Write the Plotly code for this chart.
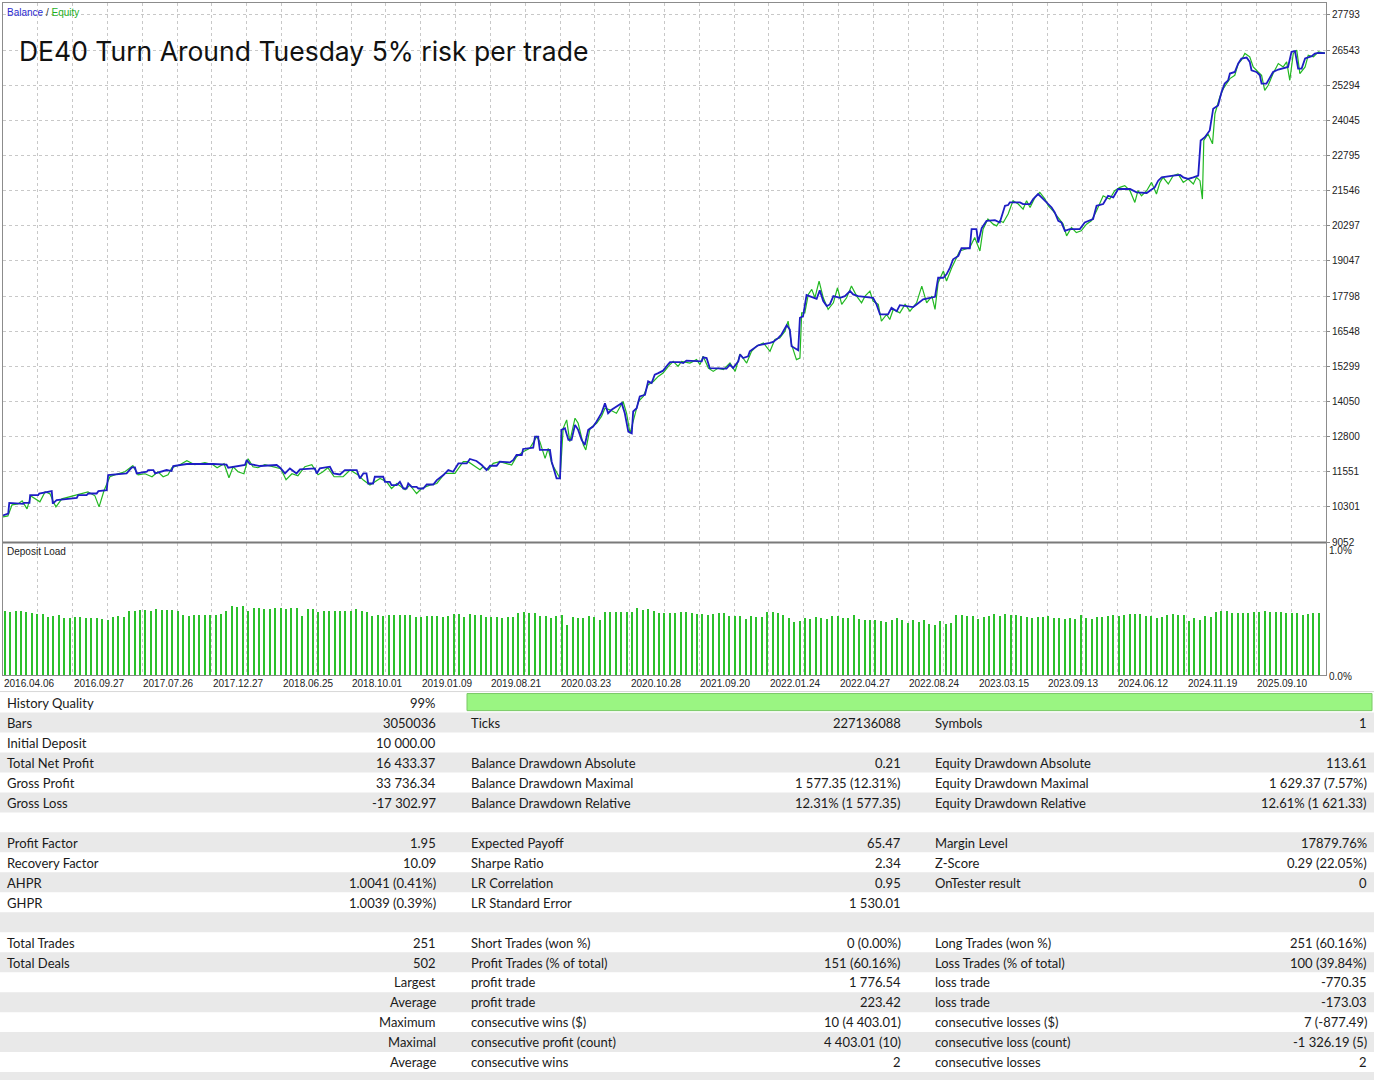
import plotly.graph_objects as go

# balance curve (deal index, account balance)
balance_deal = [0, 1.5, 1.8, 5.8, 6.0, 7.6, 7.8, 10.1, 10.4, 12.6, 14.0, 14.3, 15.4, 21.2, 21.6, 24.0,
                24.5, 26.9, 27.4, 29.8, 30.2, 35.5, 36.0, 37.0, 37.9, 38.4, 41.3, 41.7, 43.2, 43.7, 47.0,
                48.4, 48.9, 52.8, 60.4, 64.2, 64.7, 66.1, 69.5, 70.0, 70.9, 73.8, 78.6, 79.6, 81.0, 82.4,
                84.3, 85.3, 89.6, 90.1, 91.0, 93.9, 94.9, 96.8, 98.2, 101.6, 102.5, 103.5, 104.4, 104.9,
                106.3, 106.8, 109.2, 109.7, 111.1, 111.6, 113.1, 114.0, 115.0, 115.9, 116.4, 117.4, 118.8,
                119.3, 120.7, 121.7, 123.6, 124.6, 126.5, 127.9, 129.3, 130.8, 133.2, 134.1, 136.0, 137.5,
                138.9, 139.9, 141.8, 142.7, 145.6, 146.6, 147.5, 149.0, 149.4, 152.3, 152.8, 153.7, 154.2,
                157.1, 157.6, 159.0, 160.0, 160.4, 161.4, 162.4, 163.3, 164.3, 165.2, 166.2, 167.1, 168.1,
                169.5, 170.5, 171.9, 172.9, 173.8, 174.8, 176.2, 177.7, 178.6, 179.6, 180.6, 181.0, 182.0,
                182.9, 184.4, 185.3, 186.3, 187.2, 188.2, 189.6, 191.1, 191.6, 194.4, 195.4, 196.3, 199.2,
                200.7, 201.1, 202.1, 203.0, 207.8, 208.8, 209.7, 211.2, 211.7, 212.6, 214.0, 214.5, 216.0,
                216.9, 220.3, 221.2, 222.7, 223.6, 225.1, 226.0, 226.5, 228.4, 228.9, 229.8, 230.8, 233.7,
                234.6, 235.6, 236.6, 237.5, 238.5, 240.4, 241.8, 243.3, 244.2, 245.6, 249.9, 250.9, 251.9,
                254.2, 255.2, 256.7, 257.6, 261.4, 262.4, 264.3, 267.7, 268.6, 270.1, 271.0, 272.0, 272.9,
                274.4, 275.3, 277.7, 278.2, 279.6, 280.1, 281.1, 282.5, 284.9, 286.3, 287.8, 288.7, 289.2,
                292.1, 293.0, 295.0, 295.9, 297.3, 298.3, 299.3, 300.2, 301.2, 302.1, 303.1, 304.0, 305.0,
                306.4, 309.3, 310.7, 311.7, 313.1, 314.1, 316.0, 317.4, 318.9, 320.3, 323.7, 325.6, 328.5,
                329.4, 330.8, 331.8, 332.8, 336.1, 338.1, 339.0, 340.4, 341.9, 343.3, 344.0, 345.2, 346.6,
                347.6, 349.0, 350.0, 350.9, 351.9, 352.4, 353.8, 354.8, 355.7, 357.2, 358.1, 358.6, 360.0,
                361.0, 361.5, 362.9, 363.9, 364.8, 366.3, 368.7, 369.1, 370.1, 371.1, 372.0, 373.0, 374.0,
                375.9, 376.8, 377.8, 379.7]
balance_value = [10000, 10062, 10444, 10408, 10444, 10444, 10719, 10719, 10776, 10837, 10862, 10419, 10540,
                 10622, 10719, 10719, 10776, 10776, 10862, 10897, 11433, 11490, 11550, 11704, 11704, 11490,
                 11550, 11611, 11611, 11490, 11611, 11575, 11754, 11825, 11825, 11800, 11693, 11729, 11790,
                 11968, 11825, 11754, 11790, 11693, 11490, 11668, 11490, 11632, 11668, 11490, 11668, 11729,
                 11490, 11454, 11611, 11611, 11311, 11490, 11490, 11133, 11133, 11372, 11372, 11193, 11193,
                 11076, 11076, 11193, 10954, 10954, 11133, 11015, 11015, 10954, 10954, 11097, 11097, 11254,
                 11433, 11611, 11550, 11847, 11847, 12004, 11932, 11790, 11611, 11764, 11764, 11907, 11882,
                 11968, 12146, 12146, 12361, 12407, 12799, 12799, 12325, 12325, 11907, 11311, 11311, 13039,
                 13096, 12682, 12682, 13217, 13039, 12682, 12503, 13039, 13156, 13335, 13631, 13988, 13631,
                 13752, 13870, 13988, 13631, 12978, 12917, 13692, 13810, 14227, 14288, 14762, 14702, 15002,
                 15059, 15144, 15380, 15451, 15451, 15416, 15501, 15501, 15476, 15619, 15594, 15237, 15216,
                 15359, 15237, 15476, 15716, 15594, 15655, 15833, 15951, 16047, 16129, 16165, 16308, 16429,
                 16761, 16608, 16012, 15869, 17022, 17082, 17832, 17700, 17999, 17618, 17440, 17500, 17796,
                 17736, 17796, 17975, 17857, 17796, 17736, 17500, 17143, 17143, 17379, 17261, 17475, 17403,
                 17500, 17679, 17771, 18449, 18449, 18571, 18807, 19106, 19224, 19498, 19498, 20177, 20177,
                 19699, 20212, 20473, 20498, 20413, 21008, 21033, 21126, 21126, 21069, 21069, 21247, 21426,
                 21305, 21187, 21069, 20948, 20770, 20473, 20413, 20116, 20177, 20177, 20413, 20473, 20534,
                 21008, 21069, 21365, 21305, 21604, 21604, 21483, 21462, 21544, 21662, 21900, 22019, 22079,
                 22104, 22019, 21961, 22019, 22079, 23328, 23446, 23685, 24459, 24577, 25052, 25352, 25470,
                 25709, 25766, 26066, 26244, 26280, 26123, 25826, 25766, 25648, 25352, 25352, 25588, 25766,
                 25852, 25909, 25945, 26480, 26505, 25887, 25887, 26244, 26326, 26423, 26444, 26433]

# equity curve (deal index, equity)
equity_deal = [0, 1.4, 2.6, 4.3, 5.5, 6.9, 8.0, 9.8, 10.6, 12.1, 13.5, 14.4, 15.2, 16.9, 19.2, 22.1, 24.4,
               26.4, 27.6, 29.0, 30.7, 33.0, 35.0, 37.3, 38.8, 40.8, 42.8, 44.5, 46.0, 47.4, 48.5, 50.8,
               52.8, 55.1, 58.0, 60.3, 61.5, 63.5, 64.9, 66.1, 67.5, 69.2, 70.4, 71.8, 73.2, 75.2, 77.5,
               79.8, 81.3, 83.0, 84.7, 86.7, 88.7, 90.5, 91.9, 93.3, 95.1, 97.7, 99.7, 102.0, 103.5, 105.4,
               108.3, 110.2, 111.6, 113.1, 115.5, 116.9, 118.8, 120.2, 122.6, 124.6, 126.9, 128.4, 129.8,
               132.2, 133.6, 137.0, 137.9, 139.4, 140.8, 142.7, 144.7, 146.1, 147.5, 149.4, 151.3, 153.3,
               154.2, 155.7, 156.6, 157.6, 160.0, 160.9, 161.9, 162.8, 164.3, 165.2, 166.7, 167.4, 168.6,
               170.5, 171.9, 172.9, 174.3, 176.2, 178.1, 179.1, 180.1, 181.5, 182.5, 183.9, 185.3, 186.8,
               188.2, 189.6, 191.1, 192.5, 193.9, 194.9, 197.3, 199.2, 200.2, 201.1, 202.6, 204.0, 205.4,
               206.9, 208.8, 210.3, 211.7, 213.6, 215.0, 216.4, 218.4, 220.3, 221.7, 223.1, 224.6, 225.5,
               226.5, 227.9, 228.9, 229.4, 230.3, 231.3, 232.3, 233.2, 234.4, 235.6, 237.0, 238.5, 239.7,
               240.9, 242.3, 243.7, 245.2, 246.6, 247.6, 249.0, 249.9, 251.4, 252.3, 253.8, 254.7, 255.7,
               257.6, 259.1, 260.5, 262.4, 263.9, 265.3, 266.8, 267.7, 268.6, 270.1, 271.0, 272.5, 273.4,
               274.8, 276.3, 277.7, 279.1, 280.6, 281.5, 282.9, 284.4, 285.4, 286.3, 287.3, 288.7, 290.1,
               291.6, 293.0, 294.0, 295.0, 296.4, 297.8, 299.3, 300.2, 301.6, 303.1, 304.5, 305.5, 306.9,
               308.3, 309.7, 311.2, 312.6, 314.1, 316.0, 316.9, 317.9, 319.3, 320.8, 322.2, 323.7, 325.1,
               326.0, 327.0, 328.5, 329.9, 331.3, 332.3, 333.2, 334.7, 336.1, 337.5, 339.0, 340.4, 341.9,
               342.8, 343.8, 344.5, 344.9, 346.1, 347.4, 348.1, 349.5, 350.5, 352.4, 353.8, 354.8, 355.7,
               356.7, 358.1, 359.1, 360.5, 361.5, 362.4, 363.4, 364.8, 366.3, 367.7, 368.7, 369.6, 370.6,
               371.6, 372.5, 374.0, 374.9, 376.4, 377.8, 379.7]
equity_value = [9944, 9980, 10373, 10408, 10515, 10230, 10690, 10551, 10480, 10837, 10765, 10500, 10301,
                10587, 10658, 10765, 10837, 10694, 10301, 10872, 11372, 11479, 11550, 11764, 11443, 11479,
                11372, 11550, 11372, 11443, 11693, 11800, 11943, 11800, 11872, 11800, 11693, 11836, 11336,
                11729, 11550, 11479, 12014, 11729, 11693, 11800, 11729, 11657, 11265, 11479, 11408, 11729,
                11800, 11443, 11550, 11693, 11372, 11372, 11611, 11433, 11254, 11076, 11311, 11193, 10954,
                11133, 10908, 11076, 10776, 10954, 11076, 11133, 11490, 11490, 11490, 11907, 11907, 11622,
                11729, 11611, 11847, 11907, 11847, 11790, 12086, 12264, 12382, 12799, 12621, 12025, 12382,
                11847, 11311, 13096, 13395, 12621, 13454, 13274, 12503, 12325, 13096, 13274, 13513, 13810,
                13752, 13631, 14049, 13631, 12917, 13631, 14049, 14227, 14645, 14762, 14941, 15059, 15298,
                15476, 15298, 15476, 15416, 15537, 15359, 15655, 15237, 15119, 15237, 15180, 15416, 15119,
                15737, 15416, 15833, 16012, 16129, 15833, 16251, 16308, 16547, 16904, 16072, 15537, 15594,
                17200, 17200, 17857, 18035, 17736, 18331, 17736, 17322, 17557, 18092, 17500, 17736, 18153,
                17796, 17557, 17796, 17975, 17618, 17500, 16904, 17143, 16965, 17322, 17200, 17500, 17261,
                17557, 18153, 17557, 17796, 17322, 18271, 18689, 18331, 18807, 19045, 19402, 19463, 19520,
                19877, 19402, 20177, 20534, 20355, 20294, 20473, 20413, 20713, 21187, 21069, 20890, 21187,
                20948, 21305, 21483, 21247, 21008, 20830, 20591, 20355, 19937, 20234, 20055, 20116, 20355,
                20473, 20830, 21365, 21305, 21247, 21544, 21662, 21722, 21544, 21126, 21544, 21365, 21544,
                21840, 21426, 21840, 22019, 21783, 22079, 22140, 21840, 21961, 21783, 22019, 21900, 21247,
                23328, 23567, 23210, 24281, 24874, 25172, 25530, 25648, 26066, 26183, 26423, 26303, 25945,
                25766, 25648, 25113, 25291, 25709, 26066, 25945, 26123, 25470, 26423, 26541, 25709, 25945,
                26362, 26303, 26480, 26433]

# deposit load per trade, percent
deposit_load = [0.513, 0.500, 0.508, 0.508, 0.505, 0.495, 0.489, 0.489, 0.460, 0.474, 0.479, 0.455, 0.455,
                0.460, 0.460, 0.455, 0.452, 0.452, 0.447, 0.439, 0.460, 0.468, 0.460, 0.513, 0.508, 0.519,
                0.519, 0.513, 0.526, 0.519, 0.519, 0.519, 0.513, 0.479, 0.468, 0.479, 0.479, 0.481, 0.481,
                0.481, 0.487, 0.508, 0.553, 0.540, 0.553, 0.513, 0.532, 0.537, 0.526, 0.526, 0.534, 0.534,
                0.526, 0.534, 0.534, 0.468, 0.526, 0.526, 0.500, 0.508, 0.513, 0.513, 0.508, 0.508, 0.513,
                0.526, 0.513, 0.500, 0.474, 0.481, 0.474, 0.479, 0.479, 0.479, 0.479, 0.479,
                0.463, 0.466, 0.471, 0.471, 0.473, 0.463, 0.471, 0.484, 0.484, 0.460, 0.484, 0.476, 0.476,
                0.460, 0.466, 0.460, 0.452, 0.463, 0.460, 0.492, 0.505, 0.495, 0.497, 0.473, 0.468, 0.452,
                0.468, 0.479, 0.397, 0.460, 0.452, 0.452, 0.473, 0.460, 0.442, 0.500, 0.505, 0.500, 0.505,
                0.505, 0.500, 0.537, 0.521, 0.526, 0.508, 0.495, 0.497, 0.497, 0.497, 0.500, 0.500, 0.497,
                0.487, 0.489, 0.479, 0.487, 0.495, 0.492, 0.468, 0.471, 0.468, 0.450, 0.468, 0.466, 0.466,
                0.505, 0.500, 0.497, 0.479, 0.458, 0.420, 0.434, 0.452, 0.447, 0.466, 0.458, 0.447, 0.473,
                0.468, 0.452, 0.458, 0.481, 0.450, 0.442, 0.442, 0.442, 0.434, 0.426, 0.436, 0.452, 0.436,
                0.413, 0.442, 0.426, 0.442, 0.405, 0.399, 0.431, 0.405, 0.413, 0.476, 0.476, 0.468, 0.468,
                0.447, 0.460, 0.473, 0.487, 0.468, 0.484, 0.479, 0.476, 0.468, 0.460, 0.458, 0.460, 0.463,
                0.468, 0.458, 0.458, 0.447, 0.452, 0.447, 0.479, 0.458, 0.447, 0.466, 0.463, 0.473, 0.476,
                0.468, 0.481, 0.487, 0.489, 0.489, 0.473, 0.473, 0.455, 0.460, 0.479, 0.484, 0.479, 0.476,
                0.434, 0.452, 0.436, 0.473,
                0.463, 0.500, 0.513, 0.511, 0.492, 0.495, 0.495, 0.497, 0.505, 0.505, 0.511, 0.503, 0.500,
                0.500, 0.497, 0.492, 0.492, 0.479, 0.489, 0.495, 0.497]

y_ticks = [27793, 26543, 25294, 24045, 22795, 21546, 20297, 19047, 17798, 16548, 15299, 14050, 12800,
           11551, 10301, 9052]
date_labels = ["2016.04.06", "2016.09.27", "2017.07.26", "2017.12.27", "2018.06.25", "2018.10.01",
               "2019.01.09", "2019.08.21", "2020.03.23", "2020.10.28", "2021.09.20", "2022.01.24",
               "2022.04.27", "2022.08.24", "2023.03.15", "2023.09.13", "2024.06.12", "2024.11.19",
               "2025.09.10"]

# report table, one entry per row
col1_labels = ["History Quality", "Bars", "Initial Deposit", "Total Net Profit", "Gross Profit", "Gross Loss", "",
               "Profit Factor", "Recovery Factor", "AHPR", "GHPR", "", "Total Trades", "Total Deals",
               "", "", "", "", ""]
col1_values = ["99%", "3050036", "10 000.00", "16 433.37", "33 736.34", "-17 302.97", "",
               "1.95", "10.09", "1.0041 (0.41%)", "1.0039 (0.39%)", "", "251", "502",
               "Largest", "Average", "Maximum", "Maximal", "Average"]
col2_labels = ["", "Ticks", "", "Balance Drawdown Absolute", "Balance Drawdown Maximal", "Balance Drawdown Relative", "",
               "Expected Payoff", "Sharpe Ratio", "LR Correlation", "LR Standard Error", "",
               "Short Trades (won %)", "Profit Trades (% of total)", "profit trade", "profit trade",
               "consecutive wins ($)", "consecutive profit (count)", "consecutive wins"]
col2_values = ["", "227136088", "", "0.21", "1 577.35 (12.31%)", "12.31% (1 577.35)", "",
               "65.47", "2.34", "0.95", "1 530.01", "", "0 (0.00%)", "151 (60.16%)", "1 776.54", "223.42",
               "10 (4 403.01)", "4 403.01 (10)", "2"]
col3_labels = ["", "Symbols", "", "Equity Drawdown Absolute", "Equity Drawdown Maximal", "Equity Drawdown Relative", "",
               "Margin Level", "Z-Score", "OnTester result", "", "", "Long Trades (won %)",
               "Loss Trades (% of total)", "loss trade", "loss trade", "consecutive losses ($)",
               "consecutive loss (count)", "consecutive losses"]
col3_values = ["", "1", "", "113.61", "1 629.37 (7.57%)", "12.61% (1 621.33)", "",
               "17879.76%", "0.29 (22.05%)", "0", "", "", "251 (60.16%)", "100 (39.84%)", "-770.35",
               "-173.03", "7 (-877.49)", "-1 326.19 (5)", "2"]

# layout is planned on a 1377 x 1080 sheet; the figure itself is drawn a little taller
# because the captured page comes out slightly squeezed vertically
W, H = 1377, 1080
FIG_H = 1090


def px(x):
    return x / W


def py(y):
    return 1 - y / H


fig = go.Figure()
fig.add_trace(go.Scatter(x=equity_deal, y=equity_value, mode="lines", name="Equity",
                         line=dict(color="#22b822", width=1.2), xaxis="x", yaxis="y"))
fig.add_trace(go.Scatter(x=balance_deal, y=balance_value, mode="lines", name="Balance",
                         line=dict(color="#1e1ec4", width=1.8), xaxis="x", yaxis="y"))

trade_no = list(range(1, len(deposit_load) + 1))
fig.add_trace(go.Bar(x=trade_no, y=deposit_load, name="Deposit Load", width=0.27,
                     marker=dict(color="#2cc02c", line_width=0), xaxis="x3", yaxis="y2"))

# bars run from pixel 5 to 1319 inside the 3..1326 pane
n = len(deposit_load)
k = (1319 - 5) / (n - 1)
bar_range = [1 - (5 - 3) / k, n + (1326 - 1319) / k]

grid = dict(showgrid=True, gridcolor="#c8c8c8", griddash="dot", gridwidth=1)
frame = dict(showline=True, linecolor="#8c8c8c", linewidth=1, mirror=True, zeroline=False)
tickfont = dict(family="Liberation Sans, Arial", size=10, color="#222")

fig.update_layout(
    width=W, height=FIG_H,
    margin=dict(l=0, r=0, t=0, b=0),
    paper_bgcolor="white", plot_bgcolor="white",
    showlegend=False, bargap=0,
    xaxis=dict(domain=[px(3), px(1326)], range=[0, 380], tick0=0, dtick=10, showticklabels=False,
               ticks="", anchor="y", **grid, **frame),
    yaxis=dict(domain=[py(540), py(3)], range=[9052, 28218], tickvals=y_ticks,
               ticktext=[str(v) for v in y_ticks], side="right",
               ticks="outside", ticklen=3, tickcolor="#888", tickfont=tickfont, anchor="x",
               **grid, **frame),
    xaxis2=dict(domain=[px(3), px(1326)], range=[0, 380], tick0=0, dtick=10, showticklabels=False,
                ticks="", anchor="y2", **grid, **frame),
    yaxis2=dict(domain=[py(673), py(541)], range=[0, 1.048], tickvals=[0, 1.0],
                ticktext=["0.0%", "1.0%"], side="right", ticks="", tickfont=tickfont,
                ticklabelshift=1, showgrid=False, anchor="x2", **frame),
    xaxis3=dict(domain=[px(3), px(1326)], range=bar_range, overlaying="x2", anchor="y2", visible=False),
)

annotations = [
    dict(x=px(5), y=py(12), text="<span style='color:#2a2ad0'>Balance</span> / "
                                 "<span style='color:#1fb01f'>Equity</span>",
         font=dict(family="Liberation Sans, Arial", size=10, color="#333")),
    dict(x=px(17), y=py(51), text="DE40 Turn Around Tuesday 5% risk per trade",
         font=dict(family="Inter, Noto Sans", size=26.5, color="#111")),
    dict(x=px(5), y=py(549), text="Deposit Load",
         font=dict(family="Liberation Sans, Arial", size=10, color="#222")),
]
for a in annotations:
    a.update(xref="paper", yref="paper", xanchor="left", yanchor="middle", showarrow=False)

for i, lab in enumerate(date_labels):
    annotations.append(dict(x=i * 20, y=py(681), xref="x2", yref="paper", text=lab, xanchor="left",
                            yanchor="middle", showarrow=False, xshift=-1,
                            font=dict(family="Liberation Sans, Arial", size=10, color="#222")))

shapes = [
    dict(type="line", xref="paper", yref="paper", x0=px(3), x1=px(1326), y0=py(540.5), y1=py(540.5),
         line=dict(color="#7a7a7a", width=2)),
    dict(type="line", xref="paper", yref="paper", x0=0, x1=px(1374), y0=py(689), y1=py(689),
         line=dict(color="#d8d8d8", width=1)),
]

row_font = dict(family="Lato, Noto Sans", size=13, color="#1a1a1a")
row_h = 19.9
top = 690
n_rows = len(col1_labels)
for i in range(n_rows + 1):
    if i % 2 == 1:
        y0 = top + i * row_h
        shapes.append(dict(type="rect", xref="paper", yref="paper", x0=0, x1=px(1374),
                           y0=py(min(y0 + row_h, H)), y1=py(y0), fillcolor="#e9e9e9",
                           line_width=0, layer="below"))

# history quality bar
shapes.append(dict(type="rect", xref="paper", yref="paper", x0=px(467), x1=px(1372), y0=py(708),
                   y1=py(691), fillcolor="#9af582", line=dict(color="#78c865", width=1)))

columns = [(col1_labels, col1_values, 5, 438), (col2_labels, col2_values, 469, 903),
           (col3_labels, col3_values, 933, 1369)]
for labels, values, lx, vx in columns:
    for i in range(n_rows):
        yc = py(top + i * row_h + row_h / 2 + 0.3)
        if labels[i]:
            annotations.append(dict(x=px(lx), y=yc, xref="paper", yref="paper", text=labels[i],
                                    xanchor="left", yanchor="middle", showarrow=False, font=row_font))
        if values[i]:
            annotations.append(dict(x=px(vx), y=yc, xref="paper", yref="paper", text=values[i],
                                    xanchor="right", yanchor="middle", showarrow=False, font=row_font))

fig.update_layout(annotations=annotations, shapes=shapes)

page_fix = (
    "var gd = document.getElementById('{plot_id}');"
    "document.documentElement.style.margin = '0';"
    "document.body.style.margin = '0';"
    "document.body.style.overflow = 'hidden';"
    "gd.style.position = 'fixed'; gd.style.top = '0px'; gd.style.left = '0px';"
)
fig.write_html("out.html", config={"displayModeBar": False}, post_script=page_fix)
